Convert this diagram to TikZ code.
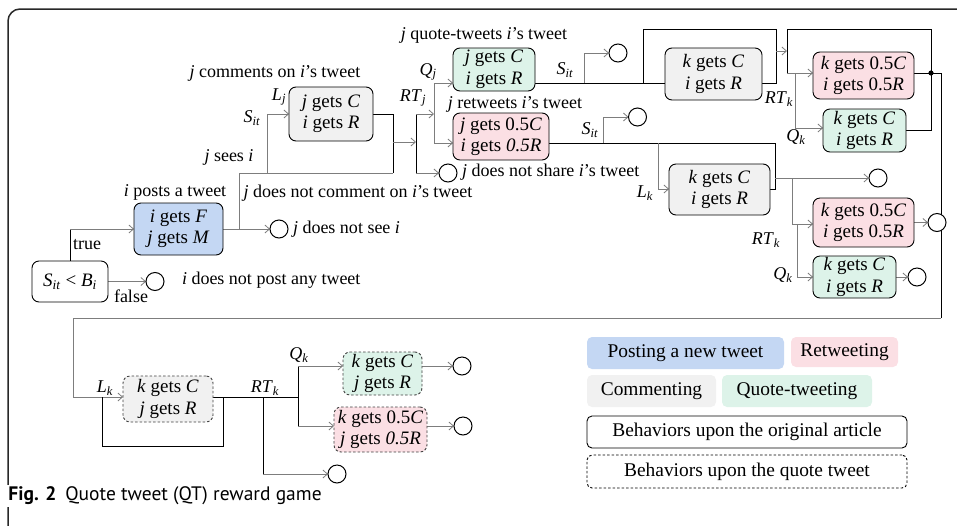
\documentclass[tikz,border=0pt]{standalone}
\usepackage{fontspec}
\setmainfont{Liberation Serif}[Ligatures=Common]
\newfontfamily\capfont{PT Sans}
\usetikzlibrary{arrows.meta,backgrounds}
\definecolor{cblue}{RGB}{196,215,243}
\definecolor{cpink}{RGB}{251,223,228}
\definecolor{cgrey}{RGB}{241,241,241}
\definecolor{cgreen}{RGB}{221,243,233}
\definecolor{lgrey}{RGB}{125,125,125}
\definecolor{frame}{RGB}{40,40,40}
\newcommand{\V}[1]{\textit{#1}}
\newcommand{\Sb}[2]{\textit{#1}\textsubscript{\textit{#2}}}
\begin{document}
\begin{tikzpicture}[x=1pt,y=-1pt,
  every node/.style={inner sep=0pt,outer sep=0pt},
  lab/.style={font=\fontsize{18}{20}\selectfont},
  box/.style={draw=black, line width=0.9pt, rounded corners=7pt, align=center,
              font=\fontsize{19}{21.5}\selectfont},
  qbox/.style={box, draw=black!75, dashed, dash pattern=on 2.5pt off 2pt},
  endc/.style={circle, draw=black, line width=1pt, minimum size=18pt, fill=white},
  arr/.style={draw=lgrey, line width=0.8pt, -{Straight Barb[length=4.5pt,width=8pt,line width=0.8pt]}},
  gl/.style={draw=lgrey, line width=0.8pt},
  ln/.style={draw=black, line width=0.9pt},
  leg/.style={rounded corners=5pt, align=center, font=\fontsize{19.4}{21}\selectfont}
]
\useasboundingbox (0,0) rectangle (957,525);
% frame
\draw[frame, line width=1.5pt, rounded corners=12pt] (8,530) -- (8,9) -- (962,9);
\node[anchor=west, fill=white, inner sep=1.5pt, font=\capfont\fontsize{19.5}{22}\selectfont] (cap) at (7,496)
  {\textbf{Fig. 2}\hspace{0.45em}Quote tweet (QT) reward game};

% ---------- nodes ----------
\node[box, fill=white, minimum width=76pt, minimum height=41pt] (cond) at (70,281.5) {\Sb{S}{it} < \Sb{B}{i}};
\node[box, fill=cblue, minimum width=89pt, minimum height=52pt] (post) at (178.5,229) {\V{i} gets \V{F}\\\V{j} gets \V{M}};
\node[box, fill=cgrey, minimum width=84pt, minimum height=54pt] (cmtj) at (331,114) {\V{j} gets \V{C}\\\V{i} gets \V{R}};
\node[box, fill=cgreen, minimum width=82pt, minimum height=43pt] (qtj) at (494,69.5) {\V{j} gets \V{C}\\\V{i} gets \V{R}};
\node[box, fill=cpink, minimum width=96pt, minimum height=47pt] (rtj) at (501,136.5) {\V{j} gets 0.5\V{C}\\\V{i} gets \V{0.5R}};
\node[box, fill=cgrey, minimum width=97pt, minimum height=52pt] (cmtka) at (713.5,74) {\V{k} gets \V{C}\\\V{i} gets \V{R}};
\node[box, fill=cpink, minimum width=101pt, minimum height=47pt] (rtka) at (863.5,75.5) {\V{k} gets 0.5\V{C}\\\V{i} gets 0.5\V{R}};
\node[box, fill=cgreen, minimum width=83pt, minimum height=43pt] (qtka) at (864.5,130.5) {\V{k} gets \V{C}\\\V{i} gets \V{R}};
\node[box, fill=cgrey, minimum width=101pt, minimum height=51pt] (cmtkb) at (719.5,189.5) {\V{k} gets \V{C}\\\V{i} gets \V{R}};
\node[box, fill=cpink, minimum width=101pt, minimum height=49pt] (rtkb) at (863.5,222.5) {\V{k} gets 0.5\V{C}\\\V{i} gets 0.5\V{R}};
\node[box, fill=cgreen, minimum width=83pt, minimum height=42pt] (qtkb) at (854.5,277) {\V{k} gets \V{C}\\\V{i} gets \V{R}};
\node[qbox, fill=cgrey, minimum width=90pt, minimum height=46pt] (cmtkc) at (168,399) {\V{k} gets \V{C}\\\V{j} gets \V{R}};
\node[qbox, fill=cgreen, minimum width=79pt, minimum height=43pt] (qtkc) at (382.5,373.5) {\V{k} gets \V{C}\\\V{j} gets \V{R}};
\node[qbox, fill=cpink, minimum width=93pt, minimum height=45pt] (rtkc) at (380.5,429.5) {\V{k} gets 0.5\V{C}\\\V{j} gets \V{0.5R}};

% ---------- labels ----------
\node[lab] (l1) at (87,245) {true};
\node[lab] (l2) at (131,296) {false};
\node[lab, anchor=west] (l3) at (182,280.5) {\V{i} does not post any tweet};
\node[lab] (l4) at (175,192) {\V{i} posts a tweet};
\node[lab, anchor=west] (l5) at (293,229) {\V{j} does not see \V{i}};
\node[lab] (l6) at (229,157) {\V{j} sees \V{i}};
\node[lab] (l7) at (358,193) {\V{j} does not comment on \V{i}'s tweet};
\node[lab] (l8) at (252,118) {\Sb{S}{it}};
\node[lab] (l9) at (279,97) {\Sb{L}{j}};
\node[lab] (l10) at (275,73) {\V{j} comments on \V{i}'s tweet};
\node[lab] (l11) at (413,98) {\Sb{RT}{j}};
\node[lab] (l12) at (428,72) {\Sb{Q}{j}};
\node[lab] (l13) at (484,35) {\V{j} quote-tweets \V{i}'s tweet};
\node[lab] (l14) at (515,104) {\V{j} retweets \V{i}'s tweet};
\node[lab, anchor=west] (l15) at (462,172) {\V{j} does not share \V{i}'s tweet};
\node[lab] (l16) at (565,70) {\Sb{S}{it}};
\node[lab] (l17) at (590,130) {\Sb{S}{it}};
\node[lab] (l18) at (779,99) {\Sb{RT}{k}};
\node[lab] (l19) at (796,137) {\Sb{Q}{k}};
\node[lab] (l20) at (645,193) {\Sb{L}{k}};
\node[lab] (l21) at (766,240) {\Sb{RT}{k}};
\node[lab] (l22) at (783,275) {\Sb{Q}{k}};
\node[lab] (l23) at (105,388) {\Sb{L}{k}};
\node[lab] (l24) at (265,388) {\Sb{RT}{k}};
\node[lab] (l25) at (299,355) {\Sb{Q}{k}};

% ---------- legend ----------
\node[leg, fill=cblue, minimum width=197pt, minimum height=32pt] (g1) at (685.5,353) {Posting a new tweet};
\node[leg, fill=cpink, minimum width=107pt, minimum height=30pt] (g2) at (844.5,352) {Retweeting};
\node[leg, fill=cgrey, minimum width=129pt, minimum height=32pt] (g3) at (651.5,391) {Commenting};
\node[leg, fill=cgreen, minimum width=150pt, minimum height=32pt] (g4) at (797,391) {Quote-tweeting};
\node[leg, draw=black, line width=0.9pt, minimum width=320pt, minimum height=32pt] (g5) at (747,432) {Behaviors upon the original article};
\node[leg, draw=black, line width=0.9pt, dashed, dash pattern=on 2.5pt off 2pt, minimum width=320pt, minimum height=33pt] (g6) at (747,471.5) {Behaviors upon the quote tweet};

% ---------- junction coordinates ----------
\coordinate (p1) at (239,229);
\coordinate (p2) at (239,173);
\coordinate (p3) at (393,173);
\coordinate (p4) at (267,173);
\coordinate (p5) at (393,114);
\coordinate (p6) at (393,142);
\coordinate (p7) at (416,142);
\coordinate (p8) at (416,114);
\coordinate (p9) at (416,173);
\coordinate (p10) at (434,114);
\coordinate (r83) at (434,83);
\coordinate (r143) at (434,143);
\coordinate (q2) at (584,83);
\coordinate (q3) at (643,83);
\coordinate (q4) at (776,29);
\coordinate (q5) at (776,83);
\coordinate (q6) at (776,51);
\coordinate (q7) at (787,51);
\coordinate (t1) at (787,29);
\coordinate (t2) at (787,73);
\coordinate (t3) at (931,29);
\coordinate (t4) at (931,130);
\coordinate (t5) at (795,73);
\coordinate (t6) at (795,128);
\coordinate (dot) at (931,73);
\coordinate (w1) at (941,73);
\coordinate (w2) at (941,318);
\coordinate (w3) at (73,318);
\coordinate (b0) at (73,397);
\coordinate (b1) at (102,397);
\coordinate (b2) at (102,446);
\coordinate (b3) at (223,446);
\coordinate (b4) at (223,397);
\coordinate (b5) at (298,397);
\coordinate (b6) at (263,397);
\coordinate (b7) at (263,474);
\coordinate (b8) at (298,366);
\coordinate (b9) at (298,426);
\coordinate (m1) at (603,143);
\coordinate (m2) at (658,143);
\coordinate (m3) at (658,189);
\coordinate (m4) at (775,143);
\coordinate (m5) at (775,189);
\coordinate (m6) at (775,178);
\coordinate (m7) at (792,178);
\coordinate (m8) at (792,224);
\coordinate (m9) at (797,224);
\coordinate (m10) at (797,277);

% end circles (drawn above lines)
\node[endc] (e0) at (155,281.5) {};
\node[endc] (e1) at (279,229) {};
\node[endc] (e2) at (448,173) {};
\node[endc] (e3) at (618,53) {};
\node[endc] (e4) at (637.5,117) {};
\node[endc] (e5) at (878,178) {};
\node[endc] (e6) at (937,222.5) {};
\node[endc] (e7) at (917,277) {};
\node[endc] (e8) at (337,474) {};
\node[endc] (e9) at (462,366) {};
\node[endc] (e10) at (463,426) {};

% ---------- connectors ----------
\begin{scope}[on background layer]
% start
\draw[ln] (cond.north) -- (cond.north |- post.west);
\draw[arr] (cond.north |- post.west) -- (post.west);
\draw[arr] (cond.east) -- (e0.west);
\draw[arr] (post.east) -- (e1.west);
% j sees i
\draw[gl] (p1) -- (p2) -- (p3);
\draw[arr] (p4) |- (cmtj.west);
\draw[ln] (cmtj.east) -- (p5) -- (p3);
\draw[arr] (p6) -- (p7);
\draw[ln] (p8) -- (p9);
\draw[arr] (p8) -- (p10);
\draw[arr] (p9) -- (e2.west);
\draw[gl] (r83) -- (r143);
\draw[arr] (r83) -- (r83 -| qtj.west);
\draw[arr] (r143) -- (r143 -| rtj.west);
% after quote-tweet by j
\draw[ln] (r83 -| qtj.east) -- (r83 -| cmtka.west);
\draw[arr] (q2) |- (e3.west);
\draw[ln] (q3) |- (q4) -- (q5) -- (q5 -| cmtka.east);
\draw[arr] (q6) -- (q7);
\draw[ln] (t2) -- (t1) -- (t3) -- (t4) -- (t4 -| qtka.east);
\draw[arr] (t2) -- (t2 -| rtka.west);
\draw[gl] (t5) -- (t6);
\draw[arr] (t6) -- (t6 -| qtka.west);
\draw[ln] (t2 -| rtka.east) -- (dot);
% loop to quote tweet behaviours
\draw[ln] (dot) -- (w1) -- (w2);
\draw[gl, line width=1pt] (w2) -- (w3) -- (b0);
\draw[arr] (b0) -- (b0 -| cmtkc.west);
% after retweet by j
\draw[ln] (r143 -| rtj.east) -- (m4) -- (m5) -- (m5 -| cmtkb.east);
\draw[arr] (m1) |- (e4.west);
\draw[gl] (m2) -- (m3);
\draw[arr] (m3) -- (m3 -| cmtkb.west);
\draw[arr] (m6) -- (e5.west);
\draw[gl] (m7) -- (m8);
\draw[arr] (m8) -- (m8 -| rtkb.west);
\draw[gl] (m9) -- (m10);
\draw[arr] (m10) -- (m10 -| qtkb.west);
\draw[arr] (rtkb.east) -- (e6.west);
\draw[arr] (m10 -| qtkb.east) -- (e7.west);
% quote tweet part
\draw[ln] (b1) -- (b2) -- (b3) -- (b4);
\draw[ln] (b4 -| cmtkc.east) -- (b5);
\draw[ln] (b6) -- (b7);
\draw[arr] (b7) -- (e8.west);
\draw[ln] (b8) -- (b9);
\draw[arr] (b8) -- (b8 -| qtkc.west);
\draw[arr] (b9) -- (b9 -| rtkc.west);
\draw[arr] (b8 -| qtkc.east) -- (e9.west);
\draw[arr] (b9 -| rtkc.east) -- (e10.west);
\end{scope}
\fill (dot) circle (2.6pt);
\end{tikzpicture}
\end{document}
